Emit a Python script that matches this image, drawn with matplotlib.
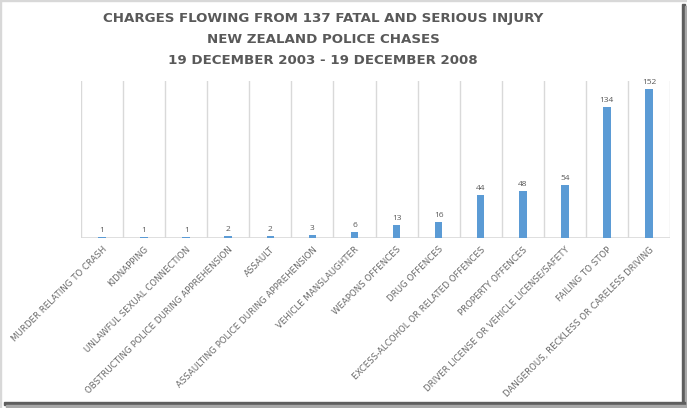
import matplotlib.pyplot as plt
from matplotlib.patches import Rectangle

# data
categories = ["MURDER RELATING TO CRASH", "KIDNAPPING", "UNLAWFUL SEXUAL CONNECTION",
              "OBSTRUCTING POLICE DURING APPREHENSION", "ASSAULT",
              "ASSAULTING POLICE DURING APPREHENSION", "VEHICLE MANSLAUGHTER",
              "WEAPONS OFFENCES", "DRUG OFFENCES", "EXCESS-ALCOHOL OR RELATED OFFENCES",
              "PROPERTY OFFENCES", "DRIVER LICENSE OR VEHICLE LICENSE/SAFETY",
              "FAILING TO STOP", "DANGEROUS, RECKLESS OR CARELESS DRIVING"]
counts = [1, 1, 1, 2, 2, 3, 6, 13, 16, 44, 48, 54, 134, 152]
title = ("CHARGES FLOWING FROM 137 FATAL AND SERIOUS INJURY\n"
         "NEW ZEALAND POLICE CHASES\n"
         "19 DECEMBER 2003 - 19 DECEMBER 2008")

W, H = 687, 408
fig = plt.figure(figsize=(W / 100, H / 100), dpi=100)
ax = fig.add_axes([81 / W, 1 - 238 / H, (670 - 81) / W, (238 - 81) / H])

txt = '#595959'
x = list(range(len(categories)))
ax.bar(x, counts, width=0.18, color='#5B9BD5', zorder=3)
for xi, v in zip(x, counts):
    ax.text(xi, v + 3, str(v), ha='center', va='bottom', fontsize=6,
            color=txt, family='Open Sans')

ax.set_xlim(-0.5, len(categories) - 0.5)
ax.set_ylim(0, 160)
for b in range(len(categories) + 1):
    ax.axvline(b - 0.5, color='#D9D9D9', lw=1, zorder=1)
for s in ax.spines.values():
    s.set_visible(False)
ax.axhline(0, color='#D9D9D9', lw=1.2, zorder=2)
ax.set_yticks([])
ax.set_xticks(x)
ax.set_xticklabels(categories, rotation=45, ha='right', rotation_mode='anchor',
                   fontsize=6.2, color='#6A6A6A', family='DejaVu Sans')
ax.tick_params(axis='x', length=0, pad=5)

fig.text(323 / W, 1 - 12 / H, title, ha='center', va='top', fontsize=9.6,
         fontweight='bold', color=txt, family='DejaVu Sans', linespacing=1.8)

# screenshot frame with shadow
fig.add_artist(Rectangle((0, 0), 1 / W, 1, transform=fig.transFigure, color='#D8D8D8'))
fig.add_artist(Rectangle((0, 1 - 1 / H), 1, 1 / H, transform=fig.transFigure, color='#D8D8D8'))
fig.add_artist(Rectangle((682 / W, 3 / H), 3 / W, 1 - 7 / H, transform=fig.transFigure, color='#5E5E5E'))
fig.add_artist(Rectangle((685 / W, 0), 2 / W, 1 - 6 / H, transform=fig.transFigure, color='#A8A8A8'))
fig.add_artist(Rectangle((4 / W, 3 / H), 681 / W, 3 / H, transform=fig.transFigure, color='#5E5E5E'))
fig.add_artist(Rectangle((6 / W, 0), 681 / W, 3 / H, transform=fig.transFigure, color='#A8A8A8'))

fig.savefig('out.png', dpi=100)
